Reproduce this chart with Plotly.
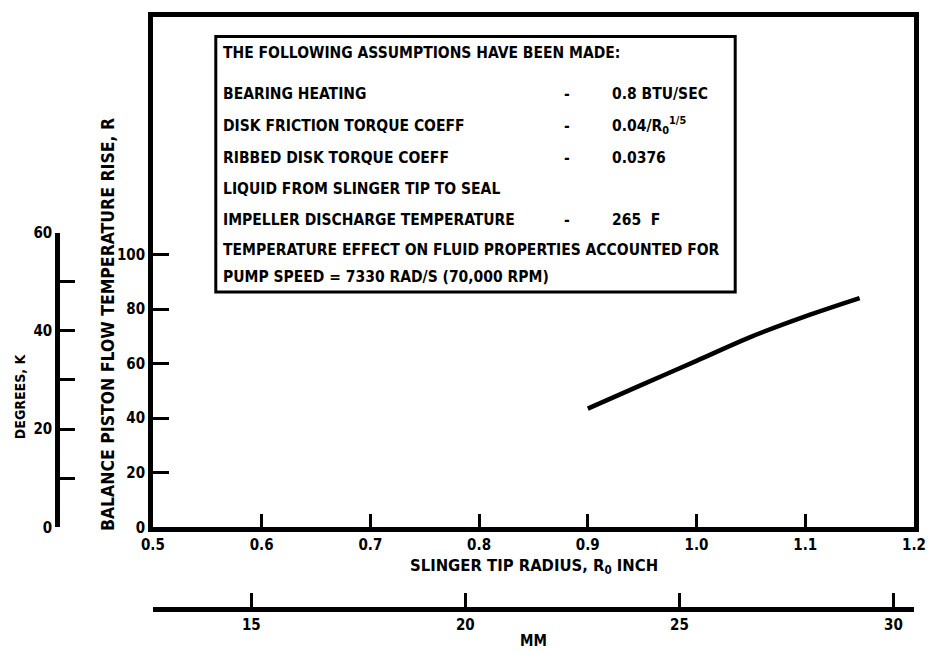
import plotly.graph_objects as go

# ---- data ----
radius_in = [0.90, 0.95, 1.00, 1.05, 1.10, 1.15]
temp_rise_R = [43.5, 52.3, 61.0, 69.8, 77.3, 84.0]

x_ticks = [0.5, 0.6, 0.7, 0.8, 0.9, 1.0, 1.1, 1.2]
x_ticktext = ["0.5", "0.6", "0.7", "0.8", "0.9", "1.0", "1.1", "1.2"]
y_ticks = [0, 20, 40, 60, 80, 100]
k_ticks = [0, 20, 40, 60]
k_minor_ticks = [10, 30, 50]
mm_ticks = [15, 20, 25, 30]

assumption_labels = [
    "BEARING HEATING",
    "DISK FRICTION TORQUE COEFF",
    "RIBBED DISK TORQUE COEFF",
    "LIQUID FROM SLINGER TIP TO SEAL",
    "IMPELLER DISCHARGE TEMPERATURE",
]
assumption_values = [
    "0.8 BTU/SEC",
    "0.04/R<sub>0</sub><sup>1/5</sup>",
    "0.0376",
    "",
    "265  F",
]
box_header = "THE FOLLOWING ASSUMPTIONS HAVE BEEN MADE:"
box_footer = [
    "TEMPERATURE EFFECT ON FLUID PROPERTIES ACCOUNTED FOR",
    "PUMP SPEED = 7330 RAD/S (70,000 RPM)",
]

# ---- layout helpers (pixel -> paper) ----
W, H = 934, 654
ML, MR, MT, MB = 40, 19, 8, 37
PW, PH = W - ML - MR, H - MT - MB


def px(x):
    return (x - ML) / PW


def py(y):
    return (H - MB - y) / PH


FONT = "DejaVu Sans Condensed"
tf = dict(family=FONT, size=15, color="black", weight="bold")

x_lo, x_hi = 0.5, 1.2
y_lo, y_hi = 0, 187
R_PER_K = 1.8
IN_TO_MM = 25.4

fig = go.Figure()
fig.add_trace(go.Scatter(x=radius_in, y=temp_rise_R, mode="lines",
                         line=dict(color="black", width=4.5, shape="spline"),
                         showlegend=False, hoverinfo="skip"))
# helper traces so the extra axes are drawn
fig.add_trace(go.Scatter(x=[x_lo * IN_TO_MM, x_hi * IN_TO_MM], y=[0, 0], xaxis="x2", yaxis="y",
                         mode="markers", marker=dict(opacity=0), showlegend=False, hoverinfo="skip"))
fig.add_trace(go.Scatter(x=[x_lo, x_lo], y=[0, 60], xaxis="x", yaxis="y2",
                         mode="markers", marker=dict(opacity=0), showlegend=False, hoverinfo="skip"))

y_bottom_px = 533
y_dom0 = py(y_bottom_px)
px_per_R = (y_bottom_px - MT) / (y_hi - y_lo)
k_top_px = y_bottom_px - 60 * R_PER_K * px_per_R

fig.update_layout(
    width=W, height=H,
    margin=dict(l=ML, r=MR, t=MT, b=MB),
    paper_bgcolor="white", plot_bgcolor="rgba(0,0,0,0)",
    showlegend=False,
    xaxis=dict(domain=[px(153), 1], range=[x_lo, x_hi], tickvals=x_ticks, ticktext=x_ticktext,
               ticks="inside", ticklen=14, tickwidth=2.5, tickcolor="black",
               showline=True, linewidth=4.5, linecolor="black", mirror=True,
               showgrid=False, zeroline=False, tickfont=tf, fixedrange=True),
    yaxis=dict(domain=[y_dom0, 1], range=[y_lo, y_hi], tickvals=y_ticks,
               ticks="inside", ticklen=16, tickwidth=2.5, tickcolor="black",
               showline=True, linewidth=4.5, linecolor="black", mirror=True,
               showgrid=False, zeroline=False, tickfont=tf, fixedrange=True),
    xaxis2=dict(overlaying="x", anchor="free", position=0, side="bottom",
                range=[x_lo * IN_TO_MM, x_hi * IN_TO_MM], tickvals=mm_ticks,
                ticks="inside", ticklen=14, tickwidth=2.5, tickcolor="black",
                showline=True, linewidth=4.5, linecolor="black",
                showgrid=False, zeroline=False, tickfont=tf,
                title=dict(text="MM", font=tf, standoff=2)),
    yaxis2=dict(anchor="free", position=px(57), side="left",
                domain=[y_dom0, py(k_top_px)], range=[0, 60],
                tickvals=k_ticks,
                ticks="inside", ticklen=15, tickwidth=2.5, tickcolor="black",
                minor=dict(tickvals=k_minor_ticks, ticks="inside", ticklen=15,
                           tickwidth=2.5, tickcolor="black", showgrid=False),
                showline=True, linewidth=4.5, linecolor="black",
                showgrid=False, zeroline=False, tickfont=tf),
)

ann = []
title_font = dict(family=FONT, size=16.5, color="black", weight="bold")
ann.append(dict(x=px(535), y=py(573), xref="paper", yref="paper", showarrow=False,
                text="SLINGER TIP RADIUS, R<sub>0</sub> INCH", font=title_font,
                xanchor="center", yanchor="middle"))
ann.append(dict(x=px(108), y=py(324), xref="paper", yref="paper", showarrow=False, textangle=-90,
                text="BALANCE PISTON FLOW TEMPERATURE RISE, R",
                font=dict(family=FONT, size=17.5, color="black", weight="bold"),
                xanchor="center", yanchor="middle"))
ann.append(dict(x=px(20), y=py(398), xref="paper", yref="paper", showarrow=False, textangle=-90,
                text="DEGREES, K", font=dict(family=FONT, size=14, color="black", weight="bold"),
                xanchor="center", yanchor="middle"))

# assumptions box
box_font = dict(family=FONT, size=15.5, color="black", weight="bold")
fig.add_shape(type="rect", xref="paper", yref="paper",
              x0=px(216), x1=px(736), y0=py(28), y1=py(291),
              line=dict(color="black", width=3), fillcolor="white")
ann.append(dict(x=px(221), y=py(45), xref="paper", yref="paper", showarrow=False,
                text=box_header, font=box_font, xanchor="left", yanchor="middle"))
row_y = [87, 120, 153, 185, 217]
for lab, val, yy in zip(assumption_labels, assumption_values, row_y):
    ann.append(dict(x=px(221), y=py(yy), xref="paper", yref="paper", showarrow=False,
                    text=lab, font=box_font, xanchor="left", yanchor="middle"))
    if val:
        ann.append(dict(x=px(568), y=py(yy), xref="paper", yref="paper", showarrow=False,
                        text="-", font=box_font, xanchor="center", yanchor="middle"))
        ann.append(dict(x=px(611), y=py(yy), xref="paper", yref="paper", showarrow=False,
                        text=val, font=box_font, xanchor="left", yanchor="middle"))
for txt, yy in zip(box_footer, [248, 275]):
    ann.append(dict(x=px(221), y=py(yy), xref="paper", yref="paper", showarrow=False,
                    text=txt, font=box_font, xanchor="left", yanchor="middle"))

fig.update_layout(annotations=ann)
fig.write_html(
    "out.html",
    config={"displayModeBar": False},
    post_script="document.body.style.margin='0px';document.body.style.overflow='hidden';",
)
